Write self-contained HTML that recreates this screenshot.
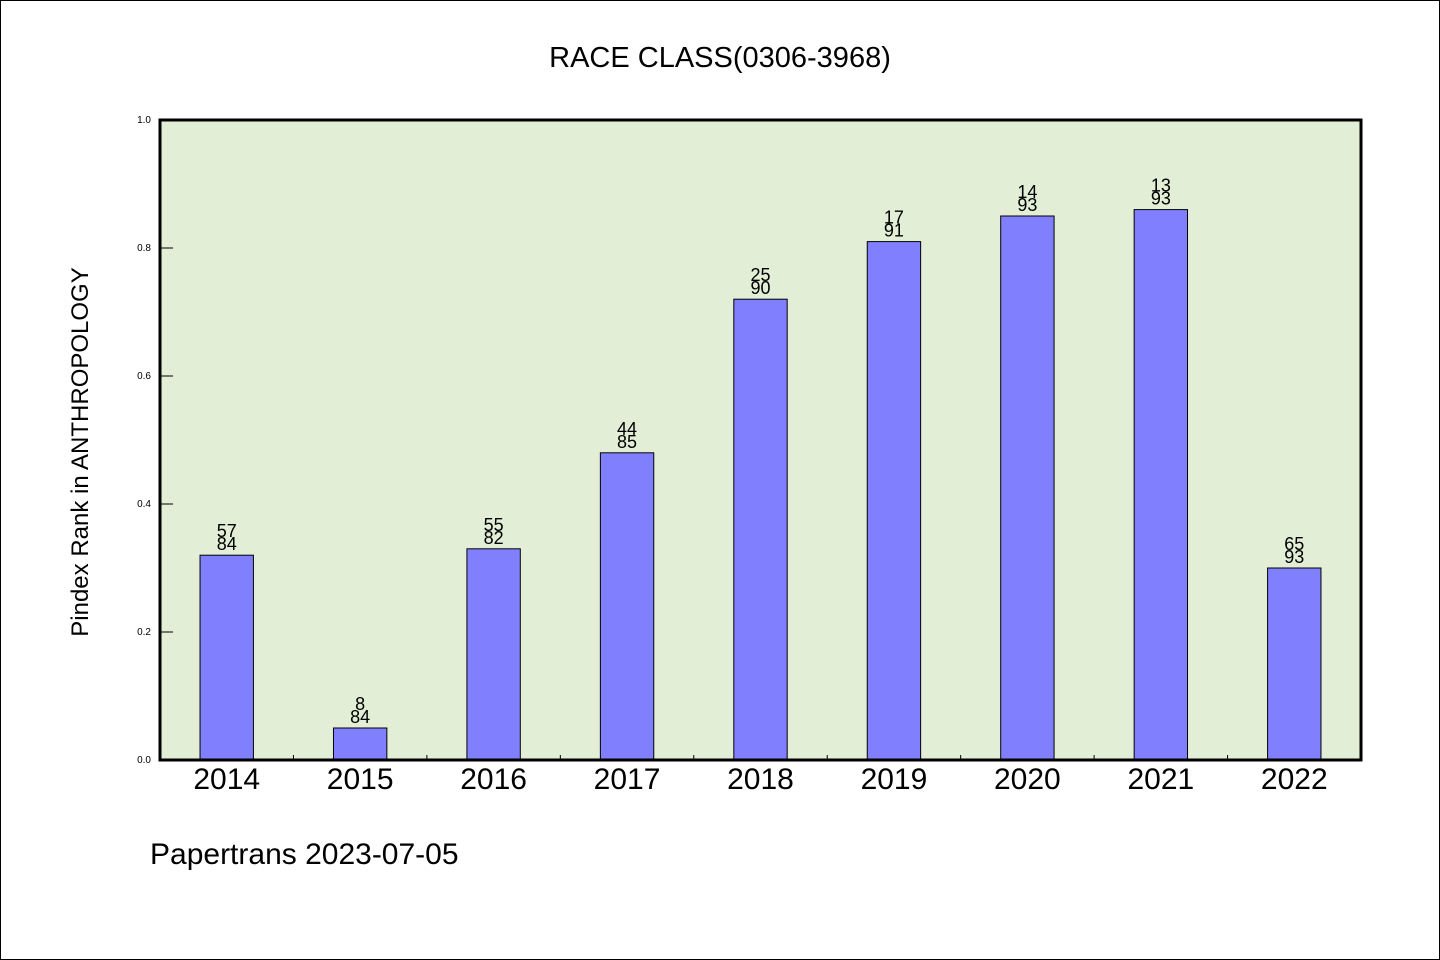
<!DOCTYPE html>
<html><head><meta charset="utf-8"><style>
html,body{margin:0;padding:0;background:#fff}
svg{display:block;font-family:"WenQuanYi Zen Hei","Liberation Sans",sans-serif}
</style></head><body>
<svg id="chart" width="1440" height="960" xmlns="http://www.w3.org/2000/svg">
<rect x="0.5" y="0.5" width="1439" height="959" fill="#fff" stroke="#000"/>
<text x="720" y="67" font-size="29" text-anchor="middle">RACE CLASS(0306-3968)</text>
<rect x="160" y="120" width="1201" height="640" fill="#e2efd6"/>
<g id="bars"></g>
<g id="axes"></g>
<rect x="160" y="120" width="1201" height="640" fill="none" stroke="#000" stroke-width="3"/>
<text transform="translate(88,452) rotate(-90)" font-size="24" text-anchor="middle">Pindex Rank in ANTHROPOLOGY</text>
<text x="150" y="864" font-size="30">Papertrans 2023-07-05</text>
</svg>
<script>
const categories=["2014","2015","2016","2017","2018","2019","2020","2021","2022"];
const values=[0.32,0.05,0.33,0.48,0.72,0.81,0.85,0.86,0.30];
const ranks=["57","8","55","44","25","17","14","13","65"];
const totals=["84","84","82","85","90","91","93","93","93"];
const yTicks=[0,0.2,0.4,0.6,0.8,1.0];
const NS="http://www.w3.org/2000/svg";
const X0=160,X1=1361,Y0=760,Y1=120;
const band=(X1-X0)/categories.length;
const xc=i=>X0+band*(i+0.5);
const y=v=>Y0-(Y0-Y1)*v;
function mk(tag,attrs,parent){const e=document.createElementNS(NS,tag);for(const k in attrs)e.setAttribute(k,attrs[k]);parent.appendChild(e);return e;}
const bars=document.getElementById('bars'),axes=document.getElementById('axes');
const bw=band*0.4;
categories.forEach((c,i)=>{
  const r=mk('rect',{x:xc(i)-bw/2,y:y(values[i]),width:bw,height:Y0-y(values[i]),fill:'#8080ff',stroke:'#000','stroke-width':1},bars);
  
  
  const t1=mk('text',{x:xc(i),y:y(values[i])-18,'font-size':18,'text-anchor':'middle'},bars);
  t1.textContent=ranks[i];
  
  
  const t2=mk('text',{x:xc(i),y:y(values[i])-5,'font-size':18,'text-anchor':'middle'},bars);
  t2.textContent=totals[i];
  
  
  const xl=mk('text',{x:xc(i),y:789,'font-size':30,'text-anchor':'middle'},axes);
  xl.textContent=c;
  
  
  if(i>0){
    const tk=mk('line',{x1:X0+band*i,x2:X0+band*i,y1:Y0,y2:Y0-5,stroke:'#000','stroke-width':1},axes);
    
    
  }
});
yTicks.forEach(v=>{
  const tk=mk('line',{x1:X0,x2:X0+13,y1:y(v),y2:y(v),stroke:'#000','stroke-width':1},axes);
  
  
  const tl=mk('text',{x:151,y:y(v)+3,'font-size':10,'text-anchor':'end'},axes);
  tl.textContent=v.toFixed(1);
  
  
});
</script>
</body></html>
